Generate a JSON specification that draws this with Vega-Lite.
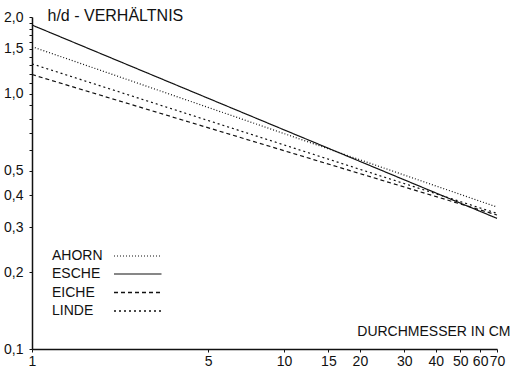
{
  "$schema": "https://vega.github.io/schema/vega-lite/v6.json",
  "autosize": "none",
  "width": 465,
  "height": 332,
  "padding": {"left": 32, "top": 17, "right": 15, "bottom": 20},
  "background": "white",
  "config": {
    "view": {"stroke": null},
    "font": "Liberation Sans",
    "axis": {"domainColor": "#111", "tickColor": "#111", "labelColor": "#111", "titleColor": "#111", "grid": false, "domainWidth": 1.5, "labelFont": "Liberation Sans", "titleFont": "Liberation Sans", "titleFontWeight": "normal"}
  },
  "data": {
    "values": [
      {"art": "AHORN", "d": 1, "hd": 1.53},
      {"art": "AHORN", "d": 70, "hd": 0.36},
      {"art": "ESCHE", "d": 1, "hd": 1.86},
      {"art": "ESCHE", "d": 70, "hd": 0.325},
      {"art": "EICHE", "d": 1, "hd": 1.19},
      {"art": "EICHE", "d": 70, "hd": 0.335},
      {"art": "LINDE", "d": 1, "hd": 1.31},
      {"art": "LINDE", "d": 70, "hd": 0.34}
    ]
  },
  "mark": {"type": "line", "color": "#111", "strokeWidth": 1.2},
  "encoding": {
    "x": {
      "field": "d", "type": "quantitative",
      "scale": {"type": "log", "domain": [1, 70], "nice": false},
      "axis": {
        "values": [1, 5, 10, 15, 20, 30, 40, 50, 60, 70],
        "labelOverlap": false, "labelFlush": false,
        "tickSize": 3, "labelFontSize": 14, "labelPadding": 2,
        "title": "DURCHMESSER IN CM", "titleFontSize": 14,
        "titleAnchor": null, "titleAlign": "right", "titleBaseline": "middle",
        "titleX": 478, "titleY": -18, "titleAngle": 0
      }
    },
    "y": {
      "field": "hd", "type": "quantitative",
      "scale": {"type": "log", "domain": [0.1, 2.0], "nice": false},
      "axis": {
        "values": [0.1, 0.2, 0.3, 0.4, 0.5, 0.6, 0.7, 0.8, 0.9, 1.0, 1.1, 1.2, 1.3, 1.4, 1.5, 1.6, 1.7, 1.8, 1.9, 2.0],
        "labelExpr": "indexof([0.1,0.2,0.3,0.4,0.5,1,1.5,2], datum.value) >= 0 ? replace(format(datum.value, '.1f'), '.', ',') : ''",
        "labelOverlap": false, "labelFlush": false,
        "tickSize": 3, "labelFontSize": 14, "labelPadding": 6,
        "title": "h/d - VERHÄLTNIS", "titleFontSize": 16,
        "titleAnchor": null, "titleAngle": 0, "titleAlign": "left", "titleBaseline": "middle",
        "titleX": 15, "titleY": -2
      }
    },
    "strokeDash": {
      "field": "art", "type": "nominal",
      "scale": {"domain": ["AHORN", "ESCHE", "EICHE", "LINDE"], "range": [[1, 2], [1, 0], [4, 3], [2, 3]]},
      "legend": {
        "title": null, "orient": "none", "legendX": 81, "legendY": 229,
        "symbolType": "M-1,0H4", "symbolSize": 361, "symbolStrokeColor": "#111",
        "labelOffset": -82, "labelFontSize": 14, "labelColor": "#111", "labelFont": "Liberation Sans",
        "rowPadding": 0.5, "padding": 0,
        "encode": {"symbols": {"enter": {"strokeWidth": {"signal": "datum.value === 'LINDE' ? 2.2 : 1.2"}}, "update": {"strokeWidth": {"signal": "datum.value === 'LINDE' ? 2.2 : 1.2"}}}}
      }
    },
    "strokeWidth": {
      "field": "art", "type": "ordinal",
      "scale": {"domain": ["AHORN", "ESCHE", "EICHE", "LINDE"], "range": [1, 1.4, 1.1, 2.2]},
      "legend": null
    }
  }
}
